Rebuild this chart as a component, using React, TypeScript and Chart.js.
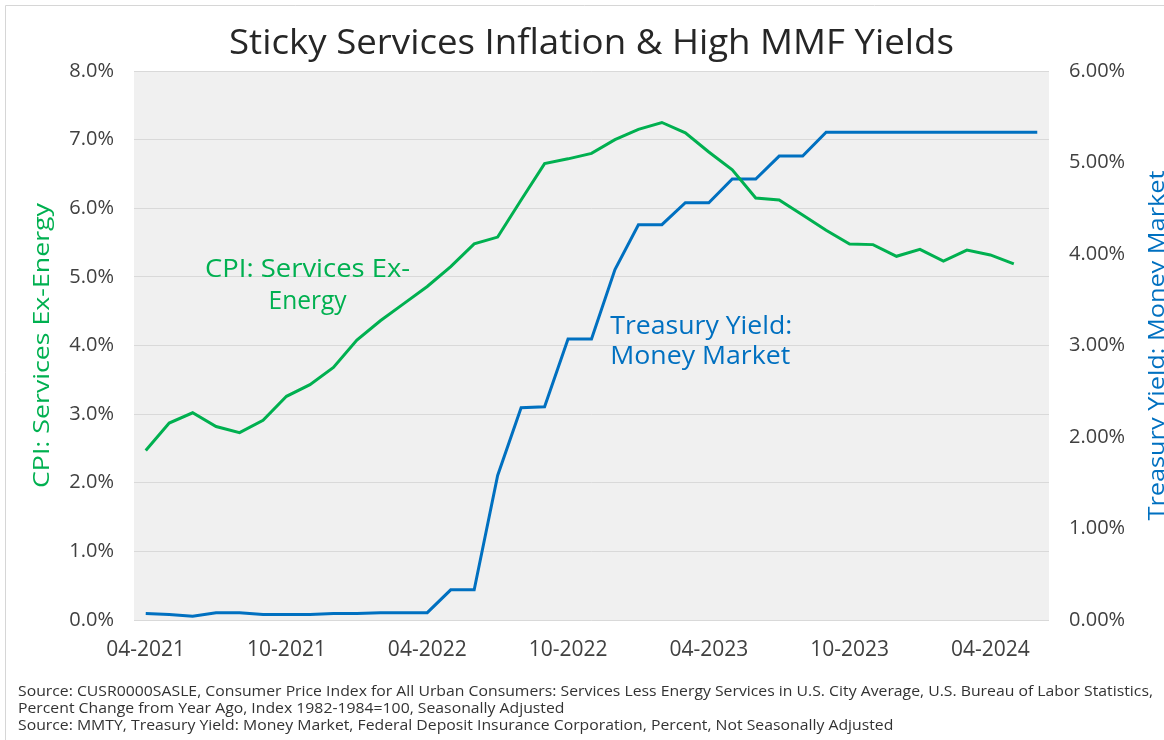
import React, { useEffect, useRef } from "react";
import { Chart, registerables } from "chart.js";

Chart.register(...registerables);

const months = [
  "04-2021", "05-2021", "06-2021", "07-2021", "08-2021", "09-2021",
  "10-2021", "11-2021", "12-2021", "01-2022", "02-2022", "03-2022",
  "04-2022", "05-2022", "06-2022", "07-2022", "08-2022", "09-2022",
  "10-2022", "11-2022", "12-2022", "01-2023", "02-2023", "03-2023",
  "04-2023", "05-2023", "06-2023", "07-2023", "08-2023", "09-2023",
  "10-2023", "11-2023", "12-2023", "01-2024", "02-2024", "03-2024",
  "04-2024", "05-2024", "06-2024",
];

const shownTicks = ["04-2021", "10-2021", "04-2022", "10-2022", "04-2023", "10-2023", "04-2024"];

const cpiServicesExEnergy = [
  2.47, 2.87, 3.02, 2.82, 2.73, 2.91,
  3.26, 3.43, 3.68, 4.08, 4.36, 4.61,
  4.86, 5.15, 5.48, 5.58, 6.12, 6.65,
  6.72, 6.80, 7.00, 7.15, 7.25, 7.10,
  6.82, 6.56, 6.15, 6.12, 5.90, 5.68,
  5.48, 5.47, 5.30, 5.40, 5.23, 5.39,
  5.32, 5.19, null,
];

const moneyMarketYield = [
  0.07, 0.06, 0.04, 0.08, 0.08, 0.06,
  0.06, 0.06, 0.07, 0.07, 0.08, 0.08,
  0.08, 0.33, 0.33, 1.58, 2.32, 2.33,
  3.07, 3.07, 3.83, 4.32, 4.32, 4.56,
  4.56, 4.82, 4.82, 5.07, 5.07, 5.33,
  5.33, 5.33, 5.33, 5.33, 5.33, 5.33,
  5.33, 5.33, 5.33,
];

const TITLE = "Sticky Services Inflation & High MMF Yields";
const LEFT_TITLE = "CPI: Services Ex-Energy";
const RIGHT_TITLE = "Treasury Yield: Money Market";
const CPI_LABEL = ["CPI: Services Ex-", "Energy"];
const MMF_LABEL = ["Treasury Yield:", "Money Market"];
const SOURCES = [
  "Source: CUSR0000SASLE, Consumer Price Index for All Urban Consumers: Services Less Energy Services in U.S. City Average, U.S. Bureau of Labor Statistics,",
  "Percent Change from Year Ago, Index 1982-1984=100, Seasonally Adjusted",
  "Source: MMTY, Treasury Yield: Money Market, Federal Deposit Insurance Corporation, Percent, Not Seasonally Adjusted",
];

const GREEN = "#00B050";
const BLUE = "#0070C0";
const FONT = '"Open Sans", "Noto Sans", sans-serif';

function stretchText(
  ctx: CanvasRenderingContext2D,
  text: string,
  x: number,
  y: number,
  size: number,
  width: number,
  align: "left" | "center",
  rotate = 0
) {
  ctx.save();
  ctx.font = `${size}px ${FONT}`;
  const w = ctx.measureText(text).width;
  const sx = width / w;
  ctx.translate(x, y);
  if (rotate) ctx.rotate(rotate);
  ctx.scale(sx, 1);
  ctx.textAlign = align;
  ctx.fillText(text, 0, 0);
  ctx.restore();
}

const decor = {
  id: "decor",
  beforeDraw(chart: any) {
    const { ctx, chartArea, width, height } = chart;
    ctx.save();
    ctx.fillStyle = "#ffffff";
    ctx.fillRect(0, 0, width, height);
    ctx.strokeStyle = "#d6d6d6";
    ctx.lineWidth = 1;
    ctx.beginPath();
    ctx.moveTo(5.5, height);
    ctx.lineTo(5.5, 5.5);
    ctx.lineTo(width, 5.5);
    ctx.stroke();
    ctx.fillStyle = "#f0f0f0";
    ctx.fillRect(chartArea.left, chartArea.top, chartArea.right - chartArea.left, chartArea.bottom - chartArea.top + 1);
    ctx.restore();
  },
  afterDraw(chart: any) {
    const { ctx, chartArea, scales } = chart;
    const midY = (chartArea.top + chartArea.bottom) / 2;
    ctx.save();
    ctx.textBaseline = "alphabetic";

    ctx.fillStyle = "#262626";
    stretchText(ctx, TITLE, 229, 54, 34, 725, "left");

    ctx.fillStyle = GREEN;
    stretchText(ctx, LEFT_TITLE, 49, midY, 22, 285, "center", -Math.PI / 2);
    ctx.fillStyle = BLUE;
    stretchText(ctx, RIGHT_TITLE, 1164, midY, 22, 350, "center", -Math.PI / 2);

    const x = scales.x;
    const y = scales.y;
    ctx.fillStyle = GREEN;
    const cx = x.getPixelForValue(6.9);
    const cy = y.getPixelForValue(5.12);
    stretchText(ctx, CPI_LABEL[0], cx, cy + 8, 25, 205, "center");
    stretchText(ctx, CPI_LABEL[1], cx, cy + 40, 25, 78, "center");

    ctx.fillStyle = BLUE;
    const tx = x.getPixelForValue(19.8);
    const ty = y.getPixelForValue(4.29);
    stretchText(ctx, MMF_LABEL[0], tx, ty + 8, 25, 182, "left");
    stretchText(ctx, MMF_LABEL[1], tx, ty + 38, 25, 180, "left");

    ctx.fillStyle = "#333333";
    ctx.font = `14px ${FONT}`;
    const s = 1135 / ctx.measureText(SOURCES[0]).width;
    const baselines = [696, 713, 730];
    SOURCES.forEach((line, i) => {
      ctx.font = `14px ${FONT}`;
      const w = ctx.measureText(line).width * s;
      stretchText(ctx, line, 18, baselines[i], 14, w, "left");
    });
    ctx.restore();
  },
};

export default function App() {
  const canvasRef = useRef<HTMLCanvasElement | null>(null);

  useEffect(() => {
    const canvas = canvasRef.current;
    if (!canvas) return;
    const chart = new Chart(canvas, {
      type: "line",
      data: {
        labels: months,
        datasets: [
          {
            label: "CPI: Services Ex-Energy",
            data: cpiServicesExEnergy,
            borderColor: GREEN,
            backgroundColor: GREEN,
            borderWidth: 3,
            pointRadius: 0,
            tension: 0,
            yAxisID: "y",
            spanGaps: false,
          },
          {
            label: "Treasury Yield: Money Market",
            data: moneyMarketYield,
            borderColor: BLUE,
            backgroundColor: BLUE,
            borderWidth: 3,
            pointRadius: 0,
            tension: 0,
            yAxisID: "y1",
          },
        ],
      },
      options: {
        responsive: false,
        animation: false,
        devicePixelRatio: 1,
        layout: { padding: { top: 71, left: 0, right: 0, bottom: 0 } },
        plugins: {
          legend: { display: false },
          title: { display: false },
          tooltip: { enabled: false },
        },
        scales: {
          x: {
            type: "category",
            offset: true,
            grid: { display: false, drawTicks: false },
            border: { display: false },
            ticks: {
              autoSkip: false,
              maxRotation: 0,
              minRotation: 0,
              padding: 17,
              color: "#404040",
              font: { family: FONT, size: 21 },
              callback: function (this: any, _v: any, i: number) {
                const l = months[i];
                return shownTicks.includes(l) ? l : "";
              },
            },
            afterFit: (s: any) => {
              s.height = 120;
            },
          },
          y: {
            position: "left",
            min: 0,
            max: 8,
            ticks: {
              stepSize: 1,
              padding: 20,
              color: "#404040",
              font: { family: FONT, size: 20 },
              callback: (v: any) => Number(v).toFixed(1) + "%",
            },
            grid: { color: "#d9d9d9", lineWidth: 1, drawTicks: false },
            border: { display: false },
            afterFit: (s: any) => {
              s.width = 134;
            },
          },
          y1: {
            position: "right",
            min: 0,
            max: 6,
            ticks: {
              stepSize: 1,
              padding: 20,
              color: "#404040",
              font: { family: FONT, size: 20 },
              callback: (v: any) => Number(v).toFixed(2) + "%",
            },
            grid: { display: false, drawTicks: false },
            border: { display: false },
            afterFit: (s: any) => {
              s.width = 115;
            },
          },
        },
      },
      plugins: [decor],
    });
    return () => chart.destroy();
  }, []);

  return (
    <div
      style={{
        position: "fixed",
        left: 0,
        top: 0,
        width: 1164,
        height: 740,
        overflow: "hidden",
        background: "#fff",
      }}
    >
      <canvas ref={canvasRef} width={1164} height={740} style={{ display: "block" }} />
    </div>
  );
}
